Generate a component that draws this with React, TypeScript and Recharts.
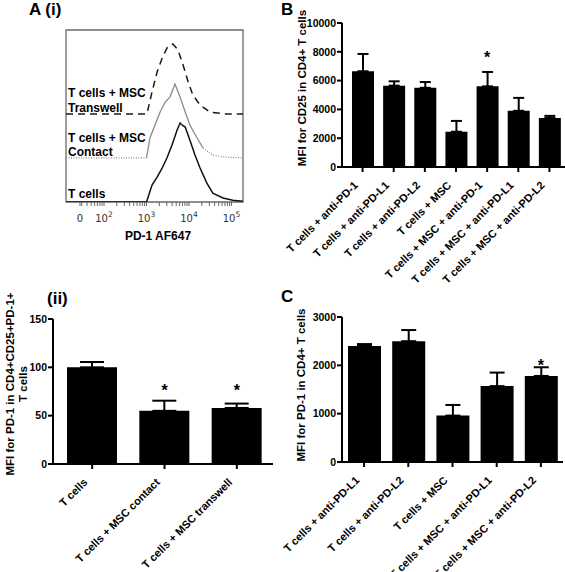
import React from 'react';
import { ComposedChart, LineChart, Line, Bar, ErrorBar, Scatter, XAxis, YAxis, ReferenceArea } from 'recharts';

const FONT = '"Liberation Sans", Arial, Helvetica, sans-serif';

// ---- A (i): PD-1 histogram overlay (x in decades, y in % of plot height) ----
const histDomain = [1.106, 5.27];
const histMajorTicks = [1.435, 2, 3, 4, 5];
const histTickBase = ['0', '10', '10', '10', '10'];
const histTickExp = ['', '2', '3', '4', '5'];

const tCellsX = [1.106, 3.0, 3.13, 3.25, 3.37, 3.48, 3.6, 3.72, 3.79, 3.85, 3.91, 4.02, 4.14, 4.26, 4.42, 4.56, 4.8, 5.03, 5.27];
const tCellsY = [0, 0, 9.9, 14.5, 19.8, 25.6, 33.1, 41.9, 45.9, 44.5, 43.6, 36, 27.3, 19.8, 11, 5.2, 2.3, 1, 0.5];

const contactX = [3.0, 3.08, 3.2, 3.32, 3.44, 3.55, 3.67, 3.79, 3.91, 4.02, 4.19, 4.33];
const contactY = [25.6, 37.2, 44.8, 52.3, 58.1, 61, 68.6, 61, 52.3, 44.8, 37.2, 31.4];
const contactBaseX = [1.106, 3.0, 3.01, 4.33, 4.56, 4.8, 5.27];
const contactBaseY = [25.6, 25.6, null, 31.4, 27.3, 26.2, 25.6];

const transwellX = [1.106, 3.01, 3.13, 3.25, 3.37, 3.48, 3.62, 3.74, 3.86, 3.98, 4.09, 4.26, 4.49, 4.89, 5.27];
const transwellY = [51.2, 51.2, 64, 75.6, 83.7, 89.5, 91.9, 88.4, 79.7, 69.8, 62.2, 56.4, 52.3, 51.2, 51.2];

// ---- A (ii) ----
const iiCategories = ['T cells', 'T cells + MSC contact', 'T cells + MSC transwell'];
const iiMeans = [100, 55, 58];
const iiErrors = [5.5, 10.5, 4.5];
const iiStars = [null, 80, 80];
const iiTicks = [0, 50, 100, 150];

// ---- B ----
const bCategories = [
  'T cells + anti-PD-1',
  'T cells + anti-PD-L1',
  'T cells + anti-PD-L2',
  'T cells + MSC',
  'T cells + MSC + anti-PD-1',
  'T cells + MSC + anti-PD-L1',
  'T cells + MSC + anti-PD-L2',
];
const bMeans = [6650, 5650, 5500, 2450, 5600, 3900, 3400];
const bErrors = [1200, 300, 400, 750, 1000, 900, 150];
const bStars = [null, null, null, null, 7880, null, null];
const bTicks = [0, 2000, 4000, 6000, 8000, 10000];

// ---- C ----
const cCategories = [
  'T cells + anti-PD-L1',
  'T cells + anti-PD-L2',
  'T cells + MSC',
  'T cells + MSC + anti-PD-L1',
  'T cells + MSC + anti-PD-L2',
];
const cMeans = [2400, 2500, 960, 1570, 1780];
const cErrors = [40, 230, 220, 280, 180];
const cStars = [null, null, null, null, 2070];
const cTicks = [0, 1000, 2000, 3000];

const toPoints = (xs: number[], ys: (number | null)[]) => xs.map((x, i) => ({ x, y: ys[i] }));

const toBars = (names: string[], means: number[], errs: number[], stars: (number | null)[]) =>
  names.map((name, i) => ({ name, value: means[i], err: [0, errs[i]], star: stars[i] }));

// minor ticks on the log part of the histogram axis
const histMinorTicks: number[] = [];
[1, 2, 3, 4].forEach(d => {
  for (let k = 2; k <= 9; k++) {
    const v = d + Math.log10(k);
    if (v > 1.46 && v < 5.26) histMinorTicks.push(v);
  }
});
const histAllTicks = [...histMajorTicks, ...histMinorTicks].sort((a, b) => a - b);

const HistTick = (props: any) => {
  const { x, y, payload } = props;
  const idx = histMajorTicks.findIndex(t => Math.abs(t - payload.value) < 1e-6);
  if (idx < 0) return <g />;
  return (
    <text x={x} y={y + 14} textAnchor="middle" fontSize={10} fill="#333" fontFamily='"DejaVu Sans", sans-serif'>
      <tspan>{histTickBase[idx]}</tspan>
      {histTickExp[idx] && (
        <tspan dy={-5} fontSize={7.5}>
          {histTickExp[idx]}
        </tspan>
      )}
    </text>
  );
};

const SlantTick = (props: any) => {
  const { x, y, payload } = props;
  const ax = x - 4;
  const ay = y + 12;
  return (
    <text
      x={ax}
      y={ay}
      transform={`rotate(-45, ${ax}, ${ay})`}
      textAnchor="end"
      fontSize={11}
      fontWeight={700}
      fontFamily={FONT}
      fill="#000"
    >
      {payload.value}
    </text>
  );
};

const StarShape = (props: any) => {
  const { cx, cy, payload } = props;
  if (payload == null || payload.star == null || !isFinite(cy)) return <g />;
  return (
    <text x={cx} y={cy + 9} textAnchor="middle" fontSize={16} fontWeight={700} fontFamily={FONT} fill="#000">
      *
    </text>
  );
};

interface BarPanelProps {
  left: number;
  top: number;
  width: number;
  height: number;
  marginTop: number;
  marginRight: number;
  yWidth: number;
  xHeight: number;
  padLeft: number;
  data: any[];
  yTicks: number[];
  barSize: number;
  capWidth: number;
}

function BarPanel(p: BarPanelProps) {
  const yMax = p.yTicks[p.yTicks.length - 1];
  return (
    <div style={{ position: 'absolute', left: p.left, top: p.top }}>
      <ComposedChart
        width={p.width}
        height={p.height}
        data={p.data}
        margin={{ top: p.marginTop, right: p.marginRight, left: 0, bottom: 0 }}
      >
        <XAxis
          dataKey="name"
          interval={0}
          height={p.xHeight}
          padding={{ left: p.padLeft, right: 0 }}
          axisLine={{ stroke: '#000', strokeWidth: 2 }}
          tickLine={{ stroke: '#000', strokeWidth: 2 }}
          tickSize={5}
          tick={<SlantTick />}
        />
        <YAxis
          width={p.yWidth}
          domain={[0, yMax]}
          ticks={p.yTicks}
          interval={0}
          allowDataOverflow
          axisLine={{ stroke: '#000', strokeWidth: 2 }}
          tickLine={{ stroke: '#000', strokeWidth: 2 }}
          tickSize={5}
          tickMargin={1}
          tick={{ fill: '#000', fontSize: 10.5, fontWeight: 700, fontFamily: FONT }}
        />
        <Bar dataKey="value" fill="#000" barSize={p.barSize} isAnimationActive={false}>
          <ErrorBar dataKey="err" width={p.capWidth} stroke="#000" strokeWidth={2} direction="y" isAnimationActive={false} />
        </Bar>
        <Scatter dataKey="star" shape={StarShape} isAnimationActive={false} />
      </ComposedChart>
    </div>
  );
}

export default function App() {
  const iiData = toBars(iiCategories, iiMeans, iiErrors, iiStars);
  const bData = toBars(bCategories, bMeans, bErrors, bStars);
  const cData = toBars(cCategories, cMeans, cErrors, cStars);

  const boldText = { fontFamily: FONT, fontWeight: 700, fill: '#000' } as const;

  return (
    <div style={{ position: 'absolute', left: 0, top: 0, width: 565, height: 572, background: '#fff', overflow: 'hidden' }}>
      {/* A (i) histogram */}
      <div style={{ position: 'absolute', left: 0, top: 0 }}>
        <LineChart width={290} height={260} margin={{ top: 30, right: 47, left: 66, bottom: 0 }}>
          <XAxis
            dataKey="x"
            type="number"
            domain={histDomain}
            allowDataOverflow
            ticks={histAllTicks}
            interval={0}
            height={58}
            axisLine={false}
            tickLine={{ stroke: '#666' }}
            tickSize={4}
            tick={<HistTick />}
          />
          <YAxis hide type="number" domain={[0, 100]} allowDataOverflow />
          <ReferenceArea
            x1={histDomain[0]}
            x2={histDomain[1]}
            y1={0}
            y2={100}
            fill="none"
            stroke="#6a6a6a"
            strokeWidth={1.3}
            ifOverflow="visible"
          />
          <Line
            data={toPoints(contactBaseX, contactBaseY)}
            dataKey="y"
            stroke="#8a8a8a"
            strokeWidth={1.2}
            strokeDasharray="1 1.5"
            dot={false}
            isAnimationActive={false}
          />
          <Line
            data={toPoints(contactX, contactY)}
            dataKey="y"
            stroke="#8a8a8a"
            strokeWidth={1.3}
            dot={false}
            isAnimationActive={false}
          />
          <Line
            data={toPoints(transwellX, transwellY)}
            dataKey="y"
            stroke="#1a1a1a"
            strokeWidth={1.5}
            strokeDasharray="7 5"
            dot={false}
            isAnimationActive={false}
          />
          <Line
            data={toPoints(tCellsX, tCellsY)}
            dataKey="y"
            stroke="#111"
            strokeWidth={1.5}
            dot={false}
            isAnimationActive={false}
          />
        </LineChart>
      </div>

      {/* A (ii) */}
      <BarPanel
        left={0}
        top={300}
        width={290}
        height={272}
        marginTop={19}
        marginRight={17}
        yWidth={53}
        xHeight={108}
        padLeft={3}
        data={iiData}
        yTicks={iiTicks}
        barSize={50}
        capWidth={12}
      />

      {/* B */}
      <BarPanel
        left={280}
        top={0}
        width={285}
        height={300}
        marginTop={23}
        marginRight={0}
        yWidth={62}
        xHeight={133}
        padLeft={5}
        data={bData}
        yTicks={bTicks}
        barSize={22}
        capWidth={5.5}
      />

      {/* C */}
      <BarPanel
        left={280}
        top={300}
        width={285}
        height={272}
        marginTop={17}
        marginRight={2}
        yWidth={62}
        xHeight={110}
        padLeft={0}
        data={cData}
        yTicks={cTicks}
        barSize={33}
        capWidth={7.5}
      />

      {/* text annotations */}
      <svg
        width={565}
        height={572}
        style={{ position: 'absolute', left: 0, top: 0, pointerEvents: 'none' }}
      >
        <text x={29} y={15} fontSize={17} {...boldText}>A (i)</text>
        <text x={281} y={15} fontSize={17} {...boldText}>B</text>
        <text x={281} y={302} fontSize={17} {...boldText}>C</text>
        <text x={47} y={304} fontSize={17} {...boldText}>(ii)</text>

        <text x={68} y={97} fontSize={12} {...boldText}>T cells + MSC</text>
        <text x={68} y={112} fontSize={12} {...boldText}>Transwell</text>
        <text x={68} y={142} fontSize={12} {...boldText}>T cells + MSC</text>
        <text x={68} y={156} fontSize={12} {...boldText}>Contact</text>
        <text x={68} y={198} fontSize={12} {...boldText}>T cells</text>
        <text x={158} y={240} fontSize={12} textAnchor="middle" {...boldText}>PD-1 AF647</text>

        <text x={306} y={88} fontSize={11.5} textAnchor="middle" transform="rotate(-90, 306, 88)" {...boldText}>
          MFI for CD25 in CD4+ T cells
        </text>
        <text x={305} y={385} fontSize={11.5} textAnchor="middle" transform="rotate(-90, 305, 385)" {...boldText}>
          MFI for PD-1 in CD4+ T cells
        </text>
        <text x={14} y={384} fontSize={11.5} textAnchor="middle" transform="rotate(-90, 14, 384)" {...boldText}>
          MFI for PD-1 in CD4+CD25+PD-1+
        </text>
        <text x={27} y={384} fontSize={11.5} textAnchor="middle" transform="rotate(-90, 27, 384)" {...boldText}>
          T cells
        </text>
      </svg>
    </div>
  );
}
